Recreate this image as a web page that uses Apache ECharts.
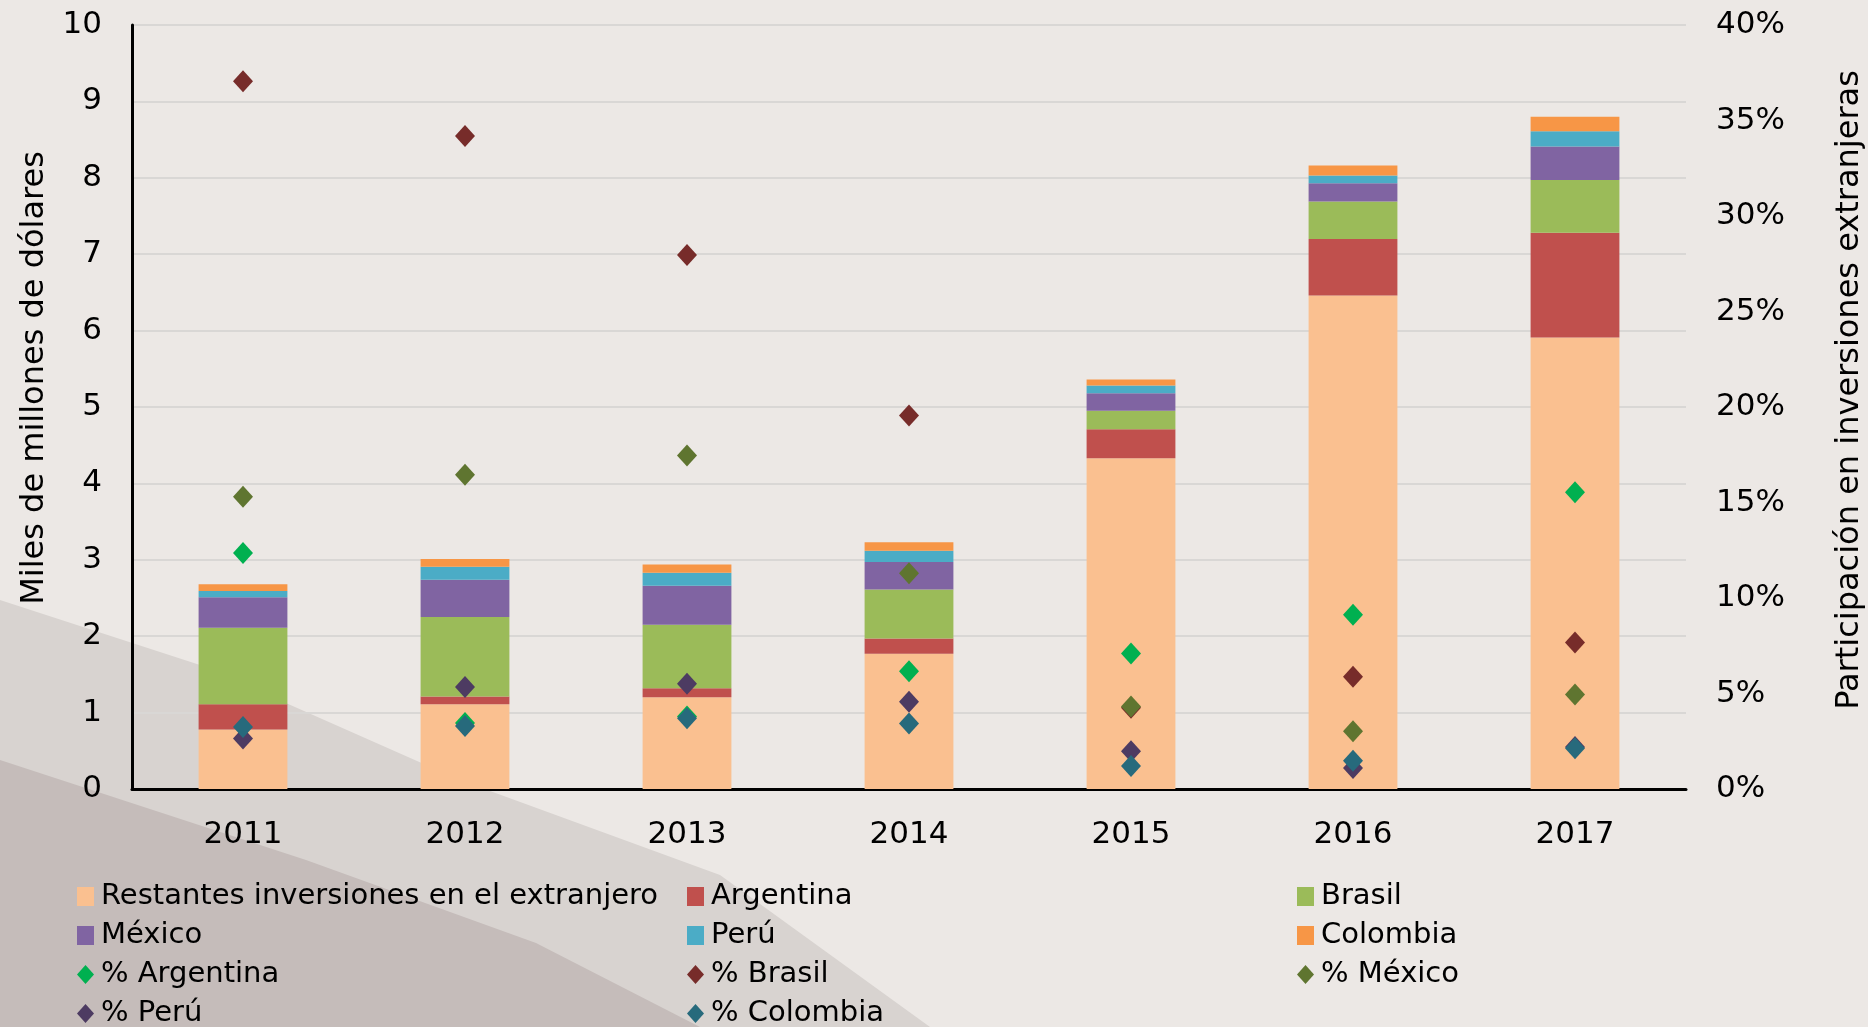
<!DOCTYPE html>
<html>
<head>
<meta charset="utf-8">
<script src="https://cdn.jsdelivr.net/npm/echarts@6/dist/echarts.min.js"></script>
<style>
  html, body { margin: 0; padding: 0; background: #ece8e5; }
  #chart { width: 1868px; height: 1027px; }
</style>
</head>
<body>
<div id="chart"></div>
<script>
// años
var years = ['2011', '2012', '2013', '2014', '2015', '2016', '2017'];

// miles de millones de dólares (barras apiladas)
var restantes = [0.78, 1.11, 1.20, 1.77, 4.33, 6.46, 5.91];
var argentina = [0.33, 0.10, 0.12, 0.20, 0.38, 0.74, 1.37];
var brasil    = [1.00, 1.04, 0.83, 0.64, 0.24, 0.49, 0.69];
var mexico    = [0.40, 0.49, 0.51, 0.36, 0.23, 0.24, 0.44];
var peru      = [0.08, 0.17, 0.17, 0.15, 0.10, 0.10, 0.20];
var colombia  = [0.09, 0.10, 0.11, 0.11, 0.08, 0.13, 0.19];

// participación en inversiones extranjeras (%)
var pctArgentina = [12.35, 3.45, 3.80, 6.17, 7.10, 9.12, 15.54];
var pctBrasil    = [37.05, 34.19, 27.96, 19.55, 4.25, 5.88, 7.67];
var pctMexico    = [15.30, 16.45, 17.46, 11.30, 4.32, 3.03, 4.95];
var pctPeru      = [2.65, 5.34, 5.51, 4.57, 1.97, 1.10, 2.20];
var pctColombia  = [3.24, 3.30, 3.71, 3.43, 1.20, 1.48, 2.14];

// ejes
var leftTicks = [0, 10, 1];   // min, max, intervalo
var rightTicks = [0, 40, 5];

var font = '"DejaVu Sans", Verdana, sans-serif';

function barSerie(name, data, color) {
    return {
        name: name,
        type: 'bar',
        stack: 'total',
        barWidth: '40%',
        data: data,
        itemStyle: { color: color },
        emphasis: { disabled: true }
    };
}

function puntoSerie(name, data, color) {
    return {
        name: name,
        type: 'scatter',
        yAxisIndex: 1,
        symbol: 'diamond',
        symbolSize: [20, 22],
        data: data,
        itemStyle: { color: color, opacity: 1 },
        emphasis: { disabled: true },
        z: 5
    };
}

function leyenda(left, names) {
    return {
        orient: 'vertical',
        left: left,
        top: 882,
        height: 200,
        itemWidth: 17,
        itemHeight: 19,
        itemGap: 10,
        padding: 0,
        selectedMode: false,
        data: names.map(function (n) {
            return { name: n, icon: n.charAt(0) === '%' ? 'diamond' : 'rect' };
        }),
        textStyle: {
            fontFamily: font,
            fontSize: 29,
            color: '#000',
            padding: [0, 0, 0, 2]
        }
    };
}

var chart = echarts.init(document.getElementById('chart'));

var option = {
    backgroundColor: '#ece8e5',
    animation: false,
    grid: { left: 132, right: 182, top: 25, bottom: 238, containLabel: false },
    graphic: [
        {
            type: 'polygon', z: -10, silent: true,
            shape: { points: [[0, 600], [200, 665], [460, 780], [720, 875], [930, 1027], [0, 1027]] },
            style: { fill: '#d8d3d0' }
        },
        {
            type: 'polygon', z: -9, silent: true,
            shape: { points: [[0, 760], [306, 860], [536, 943], [700, 1027], [0, 1027]] },
            style: { fill: '#c5bcba' }
        },
        {
            type: 'text', x: 35, y: 378, rotation: Math.PI / 2,
            style: {
                text: 'Miles de millones de dólares',
                font: '32px ' + font, fill: '#000',
                align: 'center', verticalAlign: 'middle'
            }
        },
        {
            type: 'text', x: 1850, y: 390, rotation: Math.PI / 2,
            style: {
                text: 'Participación en inversiones extranjeras',
                font: '32px ' + font, fill: '#000',
                align: 'center', verticalAlign: 'middle'
            }
        }
    ],
    legend: [
        leyenda(77, ['Restantes inversiones en el extranjero', 'México', '% Argentina', '% Perú']),
        leyenda(687, ['Argentina', 'Perú', '% Brasil', '% Colombia']),
        leyenda(1297, ['Brasil', 'Colombia', '% México'])
    ],
    xAxis: {
        type: 'category',
        data: years,
        axisLine: { lineStyle: { color: '#000', width: 3 } },
        axisTick: { show: false },
        axisLabel: { fontFamily: font, fontSize: 31, color: '#000', margin: 30 }
    },
    yAxis: [
        {
            type: 'value',
            min: leftTicks[0], max: leftTicks[1], interval: leftTicks[2],
            axisLine: { show: true, lineStyle: { color: '#000', width: 3 } },
            axisTick: { show: false },
            splitLine: { lineStyle: { color: '#d9d7d5', width: 2 } },
            axisLabel: { fontFamily: font, fontSize: 31, color: '#000', margin: 30 }
        },
        {
            type: 'value',
            min: rightTicks[0], max: rightTicks[1], interval: rightTicks[2],
            axisLine: { show: false },
            axisTick: { show: false },
            splitLine: { show: false },
            axisLabel: { fontFamily: font, fontSize: 31, color: '#000', margin: 30, formatter: '{value}%' }
        }
    ],
    series: [
        barSerie('Restantes inversiones en el extranjero', restantes, '#fac090'),
        barSerie('Argentina', argentina, '#c0504d'),
        barSerie('Brasil', brasil, '#9bbb59'),
        barSerie('México', mexico, '#8064a2'),
        barSerie('Perú', peru, '#4bacc6'),
        barSerie('Colombia', colombia, '#f79646'),
        puntoSerie('% Argentina', pctArgentina, '#00b050'),
        puntoSerie('% Brasil', pctBrasil, '#772c2a'),
        puntoSerie('% México', pctMexico, '#5f7530'),
        puntoSerie('% Perú', pctPeru, '#4d3b62'),
        puntoSerie('% Colombia', pctColombia, '#276a7c')
    ]
};

chart.setOption(option);
</script>
</body>
</html>
